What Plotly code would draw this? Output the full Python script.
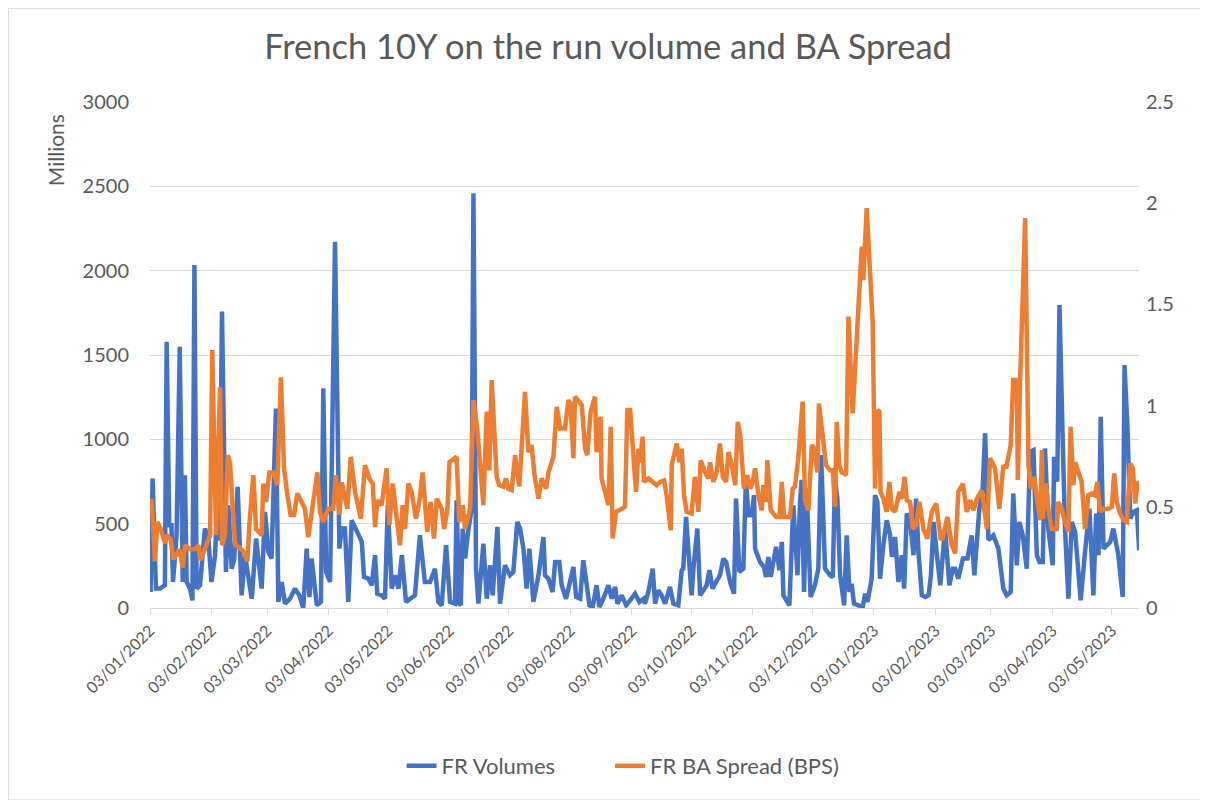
import pandas as pd
import plotly.graph_objects as go

START = "2022-01-03"

# FR Volumes (Millions): day offset from 03/01/2022, value
vol_days = [0.3, 1.3, 3, 5, 7.5, 8.4, 9.7, 10.8, 11.6, 13.4, 15, 16.5, 17.6, 18.5, 20.2, 21.4, 22.4, 23.5,
            25.2, 27.7, 29.4, 31, 32.8, 34, 35, 36.3, 38.3, 39.5, 41.2, 42.5, 44.2,
            46.2, 47.9, 49.6, 51.3, 53.5, 55.1, 56.3, 58, 59.7, 61.3, 63.5, 64.7, 66.4, 68.1, 70.6, 73.1,
            75.3, 77.3, 79, 80.4, 81.5, 84.1, 86.2, 87.4, 88.8, 90.8, 93.3, 95.5, 96.6,
            98.3, 100, 101.7, 104.2, 106.8, 107.9, 110.1, 111.8, 113.5, 114.6, 116.8, 118.5, 119.9, 121.9,
            123.6, 125.3, 127, 129.1, 131.1, 133.6, 136.1, 138.6, 141.2, 143.7, 145.4, 147.1,
            149.3, 151.3, 153.8, 154.6, 156, 156.7, 157.7, 158.9, 160.6, 162.2, 163.1, 164.4, 165.6, 168.1,
            169.8, 171.5, 172.8, 175.2, 176.5, 179, 181.5, 183.2, 185.2, 186.6, 188.3, 189.9, 191.3, 193.3,
            195.9, 198.4,
            199.2, 200.9, 203, 204.3, 206.4, 207.6, 209.8, 211.5, 213.5, 214.9, 216.9, 218.5, 220.2, 221.6,
            223.2, 225.2, 226.6, 228.6, 231.2, 232.8, 234.5, 235.7, 237.9, 240.1, 242.1, 244.6, 246.8, 248.8,
            249.6, 251.3, 253.5, 254.7, 256.3, 258, 259.7, 262.2, 263.9, 266.4, 268.1, 268.9, 270.3, 271.9,
            273.1, 274.3, 276, 277.4, 279.4, 280.7, 282.1, 283.7, 285.4, 287.4, 289.1, 290.5, 292.5, 294.5,
            295.5, 297.2,
            299.2, 300.5, 301.7, 303.4, 304.6, 305.1, 307.6, 309.6, 310.6, 311.8, 313, 315.7, 317.4, 318.6,
            319.4, 322.4, 324.4, 326.5, 327.8, 328.6, 329.8, 331.1, 333.1, 335.3, 337, 338.4, 340.4, 342.9,
            344.3, 345.4, 346.6, 348,
            350, 351.3, 352.7, 353.8, 355, 357.2, 359.4, 360.6, 361.8, 363.9, 365.6, 366.8, 368.1, 369.8,
            371.5, 373.2, 374.1, 375.7, 377.4, 379.1, 380.3, 381.6, 383.3, 385, 386.3, 387.5, 389.2, 390.9,
            392.6, 393.8, 395.1, 396.8, 398.5,
            400.9, 403.1, 404.8, 406, 407.6, 409.9, 412.2, 414.3, 415.7, 418.2, 419.8, 421.1, 422.8, 425.3,
            427.8, 430.3, 432, 434, 435.3, 437.1, 438.4, 440.1, 442.1, 443.8, 445.5, 447.2, 448.5,
            450.2, 451.3, 453, 455.2, 455.9, 457.5, 458.6, 460.3, 461.4, 463.1, 464.8, 466.5, 468.2, 469.3,
            471.5, 473.7, 475.7, 477.1, 478.3, 479.4, 480.8, 482.5, 484.2, 485.8, 488.3, 490.5, 491.4, 492.9,
            494.3, 495.9, 497.6, 498.8]
vol_values = [95, 768, 115, 115, 135, 1579, 490, 490, 154, 431, 1549, 154, 787, 154, 115, 45, 2034, 115,
              135, 471, 412, 154, 313, 629, 400, 1757, 214, 609, 233, 293, 718,
              75, 313, 194, 55, 412, 233, 115, 570, 332, 293, 1183, 36, 154, 26, 55, 115,
              75, 0, 352, 65, 293, 16, 36, 1302, 214, 154, 2172, 352, 471,
              471, 36, 520, 451, 392, 184, 174, 135, 313, 85, 75, 55, 609, 115,
              194, 115, 313, 36, 55, 75, 431, 154, 154, 233, 36, 16,
              372, 36, 26, 639, 26, 16, 471, 293, 471, 590, 2459, 233, 26, 382,
              55, 253, 75, 481, 26, 253, 194, 214, 510, 471, 352, 115, 352, 36,
              194, 421,
              194, 174, 95, 273, 273, 135, 55, 154, 243, 65, 55, 283, 135, 16,
              6, 135, 6, 55, 135, 55, 125, 26, 75, 16, 45, 85, 36, 55,
              26, 95, 233, 26, 105, 75, 26, 125, 26, 16, 224, 233, 540, 273,
              75, 273, 471, 75, 115, 135, 224, 115, 154, 194, 293, 273, 154, 85,
              649, 214,
              233, 768, 550, 550, 669, 352, 273, 243, 184, 303, 184, 362, 224, 392,
              75, 16, 609, 194, 629, 760, 95, 708, 65, 135, 233, 906, 233, 194,
              184, 768, 649, 194,
              16, 431, 95, 144, 26, 16, 6, 85, 36, 174, 669, 629, 174, 372,
              520, 431, 303, 421, 154, 313, 115, 560, 510, 313, 649, 332, 75, 65,
              75, 194, 510, 313, 135,
              471, 135, 233, 233, 174, 293, 293, 431, 194, 590, 689, 1035, 402, 431,
              352, 115, 75, 95, 679, 253, 510, 431, 233, 926, 936, 313, 273,
              273, 946, 471, 253, 896, 748, 1797, 966, 471, 55, 510, 451, 154, 45,
              332, 590, 75, 560, 313, 1134, 352, 372, 392, 471, 313, 65, 1440, 1064,
              530, 570, 580, 342]

# FR BA Spread (BPS): day offset from 03/01/2022, value
ba_days = [0.8, 2.5, 3.7, 5.4, 7.6, 8.4, 10.4, 11.8, 14.8, 16.5, 17.6, 20.2, 22.7, 24.4, 25.5, 29.4, 30.3,
           31.4, 33.3, 35.3, 36.3, 37.8, 39.2, 40.3, 42.9, 44.9,
           47.4, 49.1, 50.1, 52.1, 53.5, 56.3, 57.1, 58.5, 60.2, 62.2, 64.2, 66, 67.6, 69.3, 70.9, 72.6,
           74.3, 76.5, 78.1, 79.8, 81.5, 84.4, 85.7, 87.4, 89.9, 92.4, 93.8, 95.5, 96.7,
           99.5, 101.2, 103.4, 106.3, 108.4, 110.6, 112.3, 113.5, 114.6, 116.8, 119.3, 120.7, 122.4, 124.4,
           126.1, 127.4, 128.6, 130.3, 131.9, 134.1, 135.8, 137.5, 139.8, 141.5, 143.2, 144.6, 147.1,
           148.3, 150, 151, 154.6, 156, 157.7, 158.9, 161.4, 163.1, 165, 168.1, 169.8, 171.1, 172.3, 174.8,
           176.1, 178.2, 179.5, 180.7, 182.4, 184.1, 186.2, 189.1, 190.8, 192.4, 194.1, 195.9, 197.5,
           199.7, 200.9, 203.4, 205.1, 206.8, 209.3, 211, 212.1, 213.5, 214.3, 217.7, 219.4, 220.5, 222.2,
           224.4, 225.2, 227.2, 227.7, 231.2, 232.3, 233.3, 235, 237.9, 239.5, 240.7, 242.1, 245.1, 246.3,
           247.1, 248.4,
           249.1, 251.3, 253.5, 255.5, 257.2, 259.2, 260.5, 262.6, 263.1, 265.6, 266.9, 268.1, 269.3, 270.6,
           273.1, 274.8, 276.5, 277.7, 279.9, 281.5, 282.4, 284.1, 285.7, 287.4, 288.8, 290.5, 291.7, 293.4,
           295.1, 296.4, 297.6,
           299.5, 301.2, 302.6, 303.9, 305.1, 306.8, 308.4, 309.3, 310.6, 311.3, 313, 315.7, 317.4, 318.6,
           319.7, 322.7, 324.1, 325.2, 326.9, 329.1, 330.3, 332, 333.7, 334.8, 336.6, 337.3, 338.7, 340.9,
           342.9, 344.3, 345.4, 346.3, 347.6, 348.8,
           350, 351, 352.2, 353.3, 354.3, 356, 358, 358.9, 359.7, 360.6, 361.4, 362.7, 364.4, 365.6,
           366.8, 367.8, 368.4, 369.8, 371.5, 372.8, 374.1, 375.7, 377.9, 379.1, 380.5, 381.6, 383.3, 384.7,
           386.3, 388, 390, 392, 394.2, 396.4, 398.7,
           399.7, 402.1, 404.3, 406, 407.6, 409.9, 411.9, 413.6, 415.3, 417, 419.4, 422, 423.6, 426.1,
           428.3, 430.3, 431.7, 434, 435.3, 437.1, 437.6, 438.8, 441.3, 442.5, 443, 444.2, 445.9, 447.5,
           448.9, 449.7,
           450.2, 451.8, 453, 454.7, 457.2, 458, 459.7, 461.4, 463.1, 464.2, 465.6, 466.5, 468.2, 469.8,
           471.5, 473.2, 474.9, 476.5, 477.7, 479.1, 480.8, 483.3, 485, 486.2, 487.5, 489.2, 490.9, 492.6,
           494.3, 495.6, 496.8, 498, 498.8]
ba_values = [0.54, 0.23, 0.425, 0.39, 0.32, 0.36, 0.34, 0.24, 0.29, 0.2, 0.31, 0.29, 0.29, 0.31, 0.236, 0.33, 0.36,
             1.275, 0.36, 1.09, 0.31, 0.36, 0.755, 0.72, 0.31, 0.30,
             0.277, 0.23, 0.41, 0.656, 0.39, 0.36, 0.615, 0.524, 0.67, 0.67, 0.607, 1.14, 0.69, 0.557, 0.46, 0.46,
             0.566, 0.524, 0.49, 0.35, 0.475, 0.67, 0.475, 0.425, 0.49, 0.49, 0.656, 0.46, 0.62,
             0.49, 0.747, 0.574, 0.442, 0.706, 0.64, 0.615, 0.40, 0.533, 0.508, 0.69, 0.41, 0.615, 0.442,
             0.31, 0.508, 0.39, 0.615, 0.574, 0.442, 0.524, 0.67, 0.376, 0.524, 0.343, 0.54, 0.49,
             0.39, 0.49, 0.72, 0.747, 0.425, 0.508, 0.39, 0.49, 1.027, 0.887, 0.508, 0.97, 0.68, 1.126, 0.648,
             0.607, 0.6, 0.64, 0.59, 0.582, 0.755, 0.6, 1.068, 0.77, 0.805, 0.64, 0.54, 0.64,
             0.59, 0.67, 0.747, 0.994, 0.887, 0.887, 1.027, 1.01, 0.74, 1.044, 1.003, 0.788, 0.755, 0.97,
             1.044, 0.77, 0.945, 0.64, 0.508, 0.895, 0.343, 0.475, 0.49, 0.5, 0.978, 0.978, 0.574, 0.788,
             0.72, 0.846,
             0.623, 0.64, 0.623, 0.607, 0.623, 0.63, 0.557, 0.384, 0.706, 0.813, 0.72, 0.788, 0.557, 0.475,
             0.467, 0.648, 0.475, 0.73, 0.67, 0.64, 0.72, 0.623, 0.67, 0.813, 0.648, 0.623, 0.77, 0.706,
             0.607, 0.92, 0.854,
             0.59, 0.656, 0.59, 0.623, 0.69, 0.557, 0.483, 0.607, 0.524, 0.73, 0.483, 0.45, 0.45, 0.623,
             0.45, 0.45, 0.59, 0.6, 0.74, 1.02, 0.533, 0.483, 0.805, 0.788, 0.67, 1.01, 0.87, 0.706,
             0.68, 0.68, 0.5, 0.92, 0.706, 0.67,
             0.665, 0.656, 1.44, 1.135, 0.961, 1.266, 1.613, 1.786, 1.62, 1.778, 1.976, 1.73, 1.415, 0.59,
             0.978, 0.97, 0.574, 0.54, 0.475, 0.623, 0.49, 0.475, 0.574, 0.54, 0.648, 0.533, 0.524, 0.39,
             0.41, 0.524, 0.39, 0.343, 0.475, 0.516, 0.343,
             0.343, 0.45, 0.31, 0.27, 0.574, 0.615, 0.475, 0.533, 0.483, 0.54, 0.582, 0.39, 0.74, 0.69,
             0.49, 0.706, 0.69, 0.805, 1.126, 1.126, 0.632, 1.135, 1.926, 1.217, 0.706, 0.59, 0.648, 0.524,
             0.434, 0.78,
             0.442, 0.615, 0.49, 0.39, 0.39, 0.524, 0.49, 0.425, 0.376, 0.895, 0.607, 0.72, 0.67, 0.623,
             0.39, 0.557, 0.566, 0.557, 0.623, 0.475, 0.49, 0.49, 0.5, 0.665, 0.524, 0.467, 0.434, 0.425,
             0.714, 0.69, 0.516, 0.623, 0.615]

tick_dates = ["2022-01-03", "2022-02-03", "2022-03-03", "2022-04-03", "2022-05-03", "2022-06-03",
              "2022-07-03", "2022-08-03", "2022-09-03", "2022-10-03", "2022-11-03", "2022-12-03",
              "2023-01-03", "2023-02-03", "2023-03-03", "2023-04-03", "2023-05-03"]
tick_labels = ["03/01/2022", "03/02/2022", "03/03/2022", "03/04/2022", "03/05/2022", "03/06/2022",
               "03/07/2022", "03/08/2022", "03/09/2022", "03/10/2022", "03/11/2022", "03/12/2022",
               "03/01/2023", "03/02/2023", "03/03/2023", "03/04/2023", "03/05/2023"]

base = pd.Timestamp(START)
vol_x = [base + pd.Timedelta(days=d) for d in vol_days]
ba_x = [base + pd.Timedelta(days=d) for d in ba_days]

FONT = "Lato, 'Open Sans', sans-serif"
GREY = "#595959"
GRID = "#d9d9d9"

W, H = 1200, 792  # page body has an 8px margin
fig = go.Figure()
fig.add_trace(go.Scatter(x=vol_x, y=vol_values, name="FR Volumes", mode="lines",
                         line=dict(color="#4472C4", width=4.5), legend="legend"))
fig.add_trace(go.Scatter(x=ba_x, y=ba_values, name="FR BA Spread (BPS)", mode="lines",
                         line=dict(color="#ED7D31", width=4.5), yaxis="y2", legend="legend2"))

legend_common = dict(orientation="h", xref="container", xanchor="left", y=1 - 758 / H,
                     yref="container", yanchor="middle", font=dict(size=22, color=GREY),
                     bgcolor="rgba(0,0,0,0)")

fig.update_layout(
    width=W, height=H,
    paper_bgcolor="white", plot_bgcolor="white",
    margin=dict(l=142, r=69, t=94, b=192),
    font=dict(family=FONT, color=GREY),
    title=dict(text="French 10Y on the run volume and BA Spread", x=0.5, xref="container",
               y=1 - 39 / H, yref="container", xanchor="center", yanchor="middle",
               font=dict(size=34.5, color=GREY, family=FONT)),
    xaxis=dict(type="date", range=[START, "2023-05-16 17:00"], tickvals=tick_dates, ticktext=tick_labels,
               tickangle=-45, tickfont=dict(size=16, color=GREY), showgrid=False, showline=True,
               linecolor=GRID, linewidth=1, ticks="outside", ticklen=6, tickcolor=GRID, zeroline=False),
    yaxis=dict(range=[0, 3000], dtick=500, showgrid=True, gridcolor=GRID, gridwidth=1, zeroline=False,
               tickfont=dict(size=20, color=GREY), ticks="", showline=False, ticklabelstandoff=20),
    yaxis2=dict(range=[0, 2.5], dtick=0.5, overlaying="y", side="right", showgrid=False, zeroline=False,
                tickfont=dict(size=20, color=GREY), tickvals=[0, 0.5, 1, 1.5, 2, 2.5],
                ticktext=["0", "0.5", "1", "1.5", "2", "2.5"], showline=False, ticklabelstandoff=6),
    legend=dict(x=0.328, **legend_common),
    legend2=dict(x=0.5017, **legend_common),
    showlegend=True,
)

fig.add_annotation(text="Millions", textangle=-90, x=-0.096, y=0.905, xref="paper", yref="paper",
                   xanchor="center", yanchor="middle", showarrow=False,
                   font=dict(size=21, color=GREY, family=FONT))

fig.add_shape(type="rect", xref="paper", yref="paper", x0=-0.1431, x1=1.0693, y0=-0.3793, y1=1.1849,
              line=dict(color=GRID, width=1), fillcolor="rgba(0,0,0,0)", layer="below")

fig.write_html("out.html")
